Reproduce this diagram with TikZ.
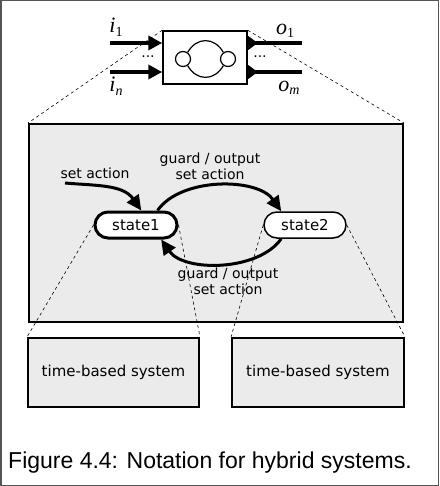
\documentclass[tikz,border=0pt]{standalone}
\usepackage{fontspec}
\setmainfont{DejaVu Sans}
\newfontfamily\captionfont{Liberation Sans}
\newfontfamily\portfont{Liberation Serif}
\usetikzlibrary{calc,arrows.meta}
\definecolor{box-gray}{RGB}{235,235,235}
\definecolor{frame-gray}{RGB}{85,85,85}
\newcommand{\portlabel}[2]{{\itshape #1}\raisebox{-0.35ex}{\fontsize{14}{15}\selectfont #2}}
\tikzset{
	statebox/.style={draw,line width=1.5pt,fill=white,rounded corners=13pt,
		minimum width=82pt,minimum height=26pt,inner sep=0pt,font=\fontsize{15}{17}\selectfont},
	sysbox/.style={draw,line width=2pt,fill=box-gray,inner sep=0pt,
		minimum height=69pt,font=\fontsize{15}{17}\selectfont},
	trans/.style={line width=3pt,-{Triangle[length=15pt,width=14pt]}},
	lbl/.style={font=\fontsize{14}{16}\selectfont,align=center,inner sep=0pt},
	zoomline/.style={dashed,dash pattern=on 3pt off 3pt,line width=0.6pt},
	port/.style={font=\portfont\fontsize{22}{24}\selectfont,inner sep=0pt}
}
\begin{document}
\begin{tikzpicture}[x=1pt,y=-1pt]
\useasboundingbox (0,0) rectangle (439,486);
\draw [frame-gray,line width=1.5pt] (0.75,0.75) rectangle (438.25,485.25);

% block with ports
\node [draw,line width=1.5pt,minimum width=84pt,minimum height=53pt,inner sep=0pt] (blk) at (205,57.5) {};
\node [draw,line width=1.2pt,circle,minimum size=15pt,inner sep=0pt] (c1) at (183,59) {};
\node [draw,line width=1.2pt,circle,minimum size=15pt,inner sep=0pt] (c2) at (228,59) {};
\draw [line width=1.2pt] (c1.55) to[out=60,in=120,looseness=1.3] (c2.125);
\draw [line width=1.2pt] (c1.-55) to[out=-60,in=-120,looseness=1.3] (c2.-125);
\coordinate (in1) at (110,43);
\coordinate (in2) at (110,72);
\coordinate (out1) at (302,43);
\coordinate (out2) at (302,72);
\foreach \p in {in1,in2}{
	\draw [line width=4pt,-{Triangle[length=14pt,width=14pt]}] (\p) -- (\p -| blk.west);
}
\foreach \p in {out1,out2}{
	\draw [line width=4pt,{Triangle[reversed,length=10pt,width=14pt]}-] (\p -| blk.east) -- (\p);
}
\node [port] (i1) at (116,27) {\portlabel{i}{1}};
\node [port] (in) at (116,86) {\portlabel{i}{\itshape n}};
\node [port] (o1) at (285,31) {\portlabel{o}{1}};
\node [port] (om) at (289,88) {\portlabel{o}{\itshape m}};
\node [inner sep=0pt,font=\fontsize{14}{16}\selectfont] (dl) at (148,57) {...};
\node [inner sep=0pt,font=\fontsize{14}{16}\selectfont] (dr) at (260,57) {...};

% hybrid automaton
\node [draw,line width=2pt,fill=box-gray,minimum width=374pt,minimum height=198pt,inner sep=0pt] (hyb) at (216,223) {};
\draw [zoomline] (blk.north west) -- (hyb.north west);
\draw [zoomline] (blk.north east) -- (hyb.north east);

\node [statebox,line width=3pt] (state1) at (136,225) {state1};
\node [statebox] (state2) at (305,225) {state2};

\coordinate (init) at (65,183);
\draw [trans] (init) to[out=-5,in=125] (state1.70);
\node [lbl] (initlbl) at (95,173) {set action};
\draw [trans] (state1.34) to[out=55,in=125,looseness=0.85] (state2.150);
\node [lbl] (uplbl) at (210,166) {guard / output\\set action};
\draw [trans] (state2.-150) to[out=-125,in=-55,looseness=0.85] (state1.-30);
\node [lbl] (lowlbl) at (228,281) {guard / output\\set action};

% refinements
\node [sysbox,minimum width=171pt] (sys1) at (113.5,372.5) {time-based system};
\node [sysbox,minimum width=172pt] (sys2) at (318,372.5) {time-based system};
\draw [zoomline] (state1.west) -- (sys1.north west);
\draw [zoomline] (state1.east) -- (sys1.north east);
\draw [zoomline] (state2.west) -- (sys2.north west);
\draw [zoomline] (state2.east) -- (sys2.north east);

\node [anchor=west,inner sep=0pt,font=\captionfont\fontsize{23}{26}\selectfont] (cap) at (8,463) {Figure 4.4: Notation for hybrid systems.};
\end{tikzpicture}
\end{document}
